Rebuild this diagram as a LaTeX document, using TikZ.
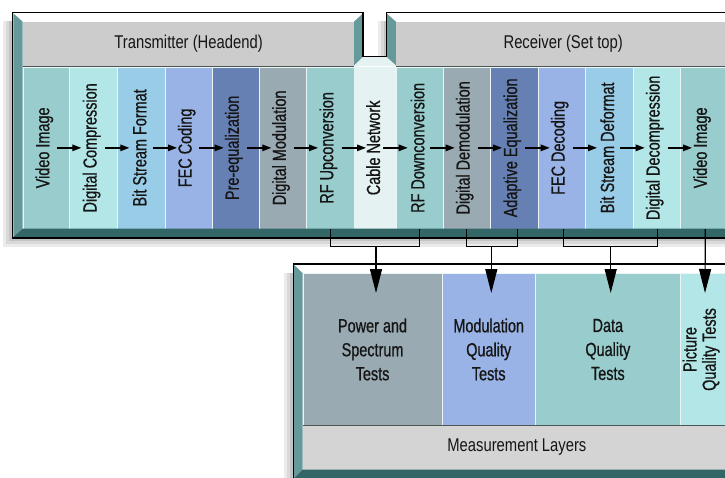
\documentclass[tikz,border=0pt]{standalone}
\usepackage{fontspec}
\usepackage{graphicx}
\setmainfont{Liberation Sans}[FakeStretch=0.8]
\newfontfamily\colfont{Liberation Sans}[FakeStretch=0.76, FakeBold=0.7]
\usetikzlibrary{arrows.meta,calc}
\definecolor{cTeal}{HTML}{99CCCC}
\definecolor{cLight}{HTML}{B3E6E6}
\definecolor{cSky}{HTML}{99CCE6}
\definecolor{cPeri}{HTML}{99B3E6}
\definecolor{cNavy}{HTML}{6680B3}
\definecolor{cSlate}{HTML}{99AAB2}
\definecolor{cCable}{HTML}{E4F2F2}
\definecolor{cHead}{HTML}{CCCCCC}
\definecolor{cMeas}{HTML}{D4D4D4}
\definecolor{cBevel}{HTML}{669999}
\definecolor{cDark}{HTML}{336666}
\definecolor{cSep}{HTML}{4D5555}
\definecolor{cTxt}{HTML}{151515}
\newcommand{\colrot}[1]{\rotatebox{90}{#1}\hspace*{4pt}}
\begin{document}
\begin{tikzpicture}[x=1pt,y=-1pt,
  col/.style={draw=white!80!cTeal, line width=0.7pt, minimum height=162pt,
    inner sep=0pt, anchor=north west, text=cTxt, font=\colfont\fontsize{19}{21}\selectfont},
  tcol/.style={draw=white!80!cTeal, line width=0.7pt, minimum height=151.7pt,
    inner sep=0pt, anchor=north west, text=cTxt, align=center, font=\colfont\fontsize{19}{24}\selectfont},
  hdr/.style={fill=cHead, inner sep=0pt, anchor=north west, minimum height=43.8pt,
    text=cTxt, font=\fontsize{18.5}{20}\selectfont},
  harr/.style={-{Triangle[length=9pt,width=6.5pt]}, line width=1.3pt, black},
  brk/.style={line width=1.2pt, black},
  varr/.style={-{Triangle[length=24pt,width=12pt]}, line width=1.2pt, black},
  shadeA/.style={fill=black!8},
  shadeB/.style={fill=black!15},
  shadeC/.style={fill=black!23}]
\useasboundingbox (0,0) rectangle (725,477);
\clip (0,0) rectangle (725,477);

% ---------- shadows of the upper panel ----------
\fill[shadeA] (3,21) rectangle (730,246.5);
\fill[shadeB] (6,21) rectangle (730,243.5);
\fill[shadeC] (9,21) rectangle (730,240.5);

% ---------- upper panel body ----------
\fill[white] (12.5,12.5) rectangle (730,237.5);
\fill[cBevel] (13.3,13.3) -- (22.7,21.7) -- (22.7,228.5) -- (13.3,237) -- cycle;
\fill[cBevel] (363,13.3) -- (354,21.7) -- (354,65.5) -- (363,57) -- cycle;
\fill[cBevel] (386.5,13.3) -- (396,21.7) -- (396,65.5) -- (386.5,57) -- cycle;

\node[hdr, minimum width=331.3pt] (thead) at (22.7,21.7) {Transmitter (Headend)};
\node[hdr, minimum width=334pt] (rhead) at (396,21.7) {Receiver (Set top)};
\draw[cSep, line width=1pt] (22.7,66) -- (354,66);
\draw[cSep, line width=1pt] (396,66) -- (730,66);

% columns
\node[col, fill=cTeal,  minimum width=46.6pt] (vi1) at (22.7,66.5)  {\colrot{Video Image}};
\node[col, fill=cLight, minimum width=48pt]   (dc)  at (69.3,66.5)  {\colrot{Digital Compression}};
\node[col, fill=cSky,   minimum width=47.7pt] (bsf) at (117.3,66.5) {\colrot{Bit Stream Format}};
\node[col, fill=cPeri,  minimum width=46.7pt] (fec) at (165,66.5)   {\colrot{FEC Coding}};
\node[col, fill=cNavy,  minimum width=47.6pt] (peq) at (211.7,66.5) {\colrot{Pre-equalization}};
\node[col, fill=cSlate, minimum width=46.7pt] (dmod) at (259.3,66.5) {\colrot{Digital Modulation}};
\node[col, fill=cTeal,  minimum width=48pt]   (rfup) at (306,66.5)  {\colrot{RF Upconversion}};
\fill[cCable] (354,66) -- (363,57) -- (386.5,57) -- (396,66) -- cycle;
\node[col, fill=cCable, draw=cCable, minimum width=41.7pt] (cable) at (354,66.5) {\colrot{Cable Network}};
\node[col, fill=cTeal,  minimum width=47pt]   (rfdn) at (395.7,66.5) {\colrot{RF Downconversion}};
\node[col, fill=cSlate, minimum width=47.3pt] (ddem) at (442.7,66.5) {\colrot{Digital Demodulation}};
\node[col, fill=cNavy,  minimum width=47.7pt] (aeq) at (490,66.5)   {\colrot{Adaptive Equalization}};
\node[col, fill=cPeri,  minimum width=47.3pt] (fecd) at (537.7,66.5) {\colrot{FEC Decoding}};
\node[col, fill=cSky,   minimum width=47.7pt] (bsd) at (585,66.5)   {\colrot{Bit Stream Deformat}};
\node[col, fill=cLight, minimum width=47.3pt] (ddc) at (632.7,66.5) {\colrot{Digital Decompression}};
\node[col, fill=cTeal,  minimum width=47.3pt] (vi2) at (680,66.5)   {\colrot{Video Image}};

\fill[cDark] (13.3,237) -- (22.7,228.5) -- (730,228.5) -- (730,237) -- cycle;

% notch interior with the receiver's shadow
\fill[white] (363.8,12) rectangle (385.7,56.2);
\fill[shadeA] (377.5,21) rectangle (386,56.2);
\fill[shadeB] (380.5,21) rectangle (386,56.2);
\fill[shadeC] (383.5,21) rectangle (386,56.2);

% outline
\draw[line width=1.6pt, line join=miter] (730,12.5) -- (386.5,12.5) -- (386.5,56.5)
  -- (363,56.5) -- (363,12.5) -- (12.5,12.5) -- (12.5,237.8) -- (730,237.8);

% flow arrows
\foreach \a/\b in {vi1/dc, dc/bsf, bsf/fec, fec/peq, peq/dmod, dmod/rfup, rfup/cable,
  cable/rfdn, rfdn/ddem, ddem/aeq, aeq/fecd, fecd/bsd, bsd/ddc, ddc/vi2}
  \draw[harr] ($(\a.east)+(-13,0)$) -- ($(\b.west)+(12,0)$);

% ---------- lower panel ----------
\fill[shadeA] (284,273) rectangle (293,480);
\fill[shadeB] (287,273) rectangle (293,480);
\fill[shadeC] (290,273) rectangle (293,480);
\fill[white] (293.3,264) rectangle (730,480);
\fill[cBevel] (294,264.8) -- (302.7,273.3) -- (302.7,469.5) -- (294,478) -- cycle;

\node[tcol, fill=cSlate, minimum width=139pt]   (pst) at (302.7,273.3) {Power and\\Spectrum\\Tests};
\node[tcol, fill=cPeri,  minimum width=93.3pt]  (mqt) at (441.7,273.3) {Modulation\\Quality\\Tests};
\node[tcol, fill=cTeal,  minimum width=145pt]   (dqt) at (535,273.3)   {Data\\Quality\\Tests};
\node[tcol, fill=cLight, minimum width=47.3pt]  (pqt) at (680,273.3)
  {\rotatebox{90}{\fontsize{19}{18.5}\selectfont\begin{tabular}{@{}c@{}}Picture\\Quality Tests\end{tabular}}\hspace*{4pt}};

\node[fill=cMeas, inner sep=0pt, anchor=north west, minimum width=428pt, minimum height=44.5pt,
  text=cTxt, font=\fontsize{18.5}{20}\selectfont] (meas) at (302.7,425) {Measurement Layers};
\draw[cSep, line width=1pt] (302.7,425) -- (730,425);
\fill[cDark] (294,478) -- (302.7,469.5) -- (730,469.5) -- (730,478) -- cycle;
\draw[line width=1.6pt, line join=miter] (730,264.2) -- (293.3,264.2) -- (293.3,480);

% ---------- brackets and test arrows ----------
\coordinate (j1) at (376,246);
\coordinate (t1) at (376,293);
\coordinate (j2) at (491.3,246);
\coordinate (t2) at (491.3,293);
\coordinate (j3) at (610.7,246);
\coordinate (t3) at (610.7,293);
\coordinate (t4) at (705,293);

\draw[brk] (rfup.south) -- ++(0,17.5) -| (rfdn.south);
\draw[brk] (ddem.south) -- ++(0,17.5) -| ([xshift=3.5pt]aeq.south);
\draw[brk] ([xshift=1.4pt]fecd.south) -- ++(0,17.5) -| ([xshift=1pt]ddc.south);
\draw[varr] (j1) -- (t1);
\draw[varr] (j2) -- (t2);
\draw[varr] (j3) -- (t3);
\draw[varr] ([xshift=1.3pt]vi2.south) -- (t4);
\end{tikzpicture}
\end{document}
